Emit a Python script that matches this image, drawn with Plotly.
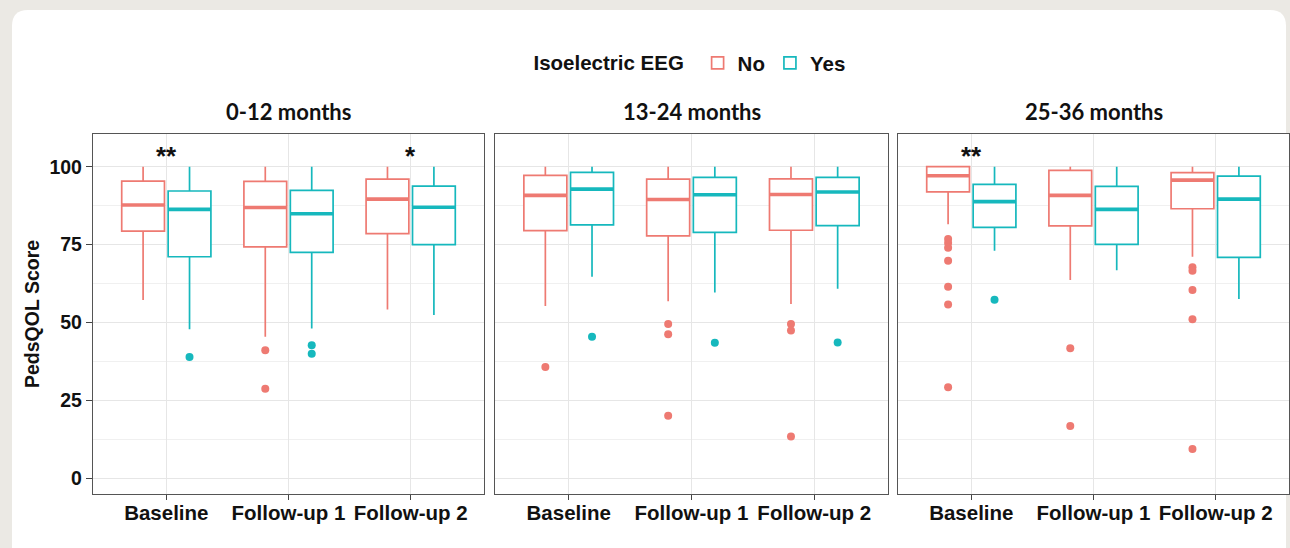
import plotly.graph_objects as go

W, H = 1290, 548

timepoints = ["Baseline", "Follow-up 1", "Follow-up 2"]
panels = ["0-12 months", "13-24 months", "25-36 months"]
groups = ["No", "Yes"]

# box statistics per panel (rows) and timepoint (columns)
no_lower = [[57.2, 45.4, 54.2], [55.3, 56.8, 55.9], [81.5, 63.6, 71.1]]
no_q1 = [[79.3, 74.3, 78.5], [79.5, 77.8, 79.6], [91.9, 81.0, 86.5]]
no_median = [[87.7, 86.9, 89.6], [90.8, 89.5, 91.1], [97.1, 90.8, 95.7]]
no_q3 = [[95.4, 95.3, 96.0], [97.2, 96.0, 96.1], [100.0, 98.8, 98.1]]
no_upper = [[100, 100, 100], [100, 100, 100], [100, 100, 100]]
no_outliers = [
    [[], [41.1, 28.7], []],
    [[35.7], [49.5, 46.2, 20.1], [49.5, 47.4, 13.4]],
    [[76.8, 75.5, 74.0, 69.8, 61.5, 55.8, 29.2], [41.7, 16.8], [67.7, 66.6, 60.4, 51.0, 9.4]],
]

yes_lower = [[47.8, 48.1, 52.4], [64.7, 59.6, 60.8], [73.0, 66.8, 57.5]]
yes_q1 = [[71.1, 72.5, 75.0], [81.3, 78.9, 81.1], [80.5, 75.1, 70.9]]
yes_median = [[86.3, 84.9, 87.0], [92.8, 91.0, 91.9], [88.8, 86.3, 89.6]]
yes_q3 = [[92.2, 92.4, 93.8], [98.2, 96.6, 96.6], [94.3, 93.7, 97.0]]
yes_upper = [[100, 100, 100], [100, 100, 100], [100, 100, 100]]
yes_outliers = [
    [[38.9], [42.7, 40.0], []],
    [[45.4], [43.5], [43.6]],
    [[57.3], [], []],
]

# significance labels: (panel index, timepoint, label)
sig_panel = [0, 0, 2]
sig_time = ["Baseline", "Follow-up 2", "Baseline"]
sig_text = ["**", "*", "**"]
sig_y = 103.5

y_ticks = [0, 25, 50, 75, 100]

colors = {"No": "#EE7A72", "Yes": "#16B8BD"}
stats = {
    "No": (no_lower, no_q1, no_median, no_q3, no_upper, no_outliers),
    "Yes": (yes_lower, yes_q1, yes_median, yes_q3, yes_upper, yes_outliers),
}
offsets = {"No": -0.19, "Yes": 0.19}
box_w = 0.35

FONT = "Liberation Sans, Arial, sans-serif"

# panel geometry in pixels
panel_x = [(93, 484), (495, 888), (898, 1289)]
panel_top, panel_bot = 134, 494

fig = go.Figure()

for p in range(3):
    xa = "x" if p == 0 else f"x{p+1}"
    ya = "y" if p == 0 else f"y{p+1}"
    for g in groups:
        lo, q1, med, q3, up, outl = stats[g]
        xs = [i + 1 + offsets[g] for i in range(len(timepoints))]
        fig.add_trace(go.Box(
            x=xs, q1=q1[p], median=med[p], q3=q3[p],
            lowerfence=lo[p], upperfence=up[p],
            width=box_w, whiskerwidth=0, boxpoints=False,
            line=dict(color=colors[g], width=1.7), fillcolor="white",
            name=g, legendgroup=g, showlegend=(p == 0),
            xaxis=xa, yaxis=ya, hoverinfo="skip",
        ))
        # thicker median line
        mx, my = [], []
        for i, x in enumerate(xs):
            mx += [x - box_w / 2, x + box_w / 2, None]
            my += [med[p][i], med[p][i], None]
        fig.add_trace(go.Scatter(
            x=mx, y=my, mode="lines", line=dict(color=colors[g], width=3.6),
            showlegend=False, xaxis=xa, yaxis=ya, hoverinfo="skip",
        ))
        ox, oy = [], []
        for i, x in enumerate(xs):
            for v in outl[p][i]:
                ox.append(x)
                oy.append(v)
        fig.add_trace(go.Scatter(
            x=ox, y=oy, mode="markers",
            marker=dict(color=colors[g], size=8, line=dict(width=0)),
            showlegend=False, xaxis=xa, yaxis=ya, hoverinfo="skip",
        ))

layout = dict(
    width=W, height=H,
    margin=dict(l=0, r=0, t=0, b=0),
    paper_bgcolor="#EBE9E4",
    plot_bgcolor="white",
    showlegend=True,
    legend=dict(
        orientation="h", x=691 / W, xanchor="center", y=1 - 63 / H, yanchor="middle",
        title=dict(text="Isoelectric EEG ", font=dict(family=FONT, size=20.5, color="#111", weight="bold")),
        font=dict(family=FONT, size=20.5, color="#111", weight="bold"),
        bgcolor="rgba(0,0,0,0)", itemwidth=30,
    ),
)

for p in range(3):
    xk = "xaxis" if p == 0 else f"xaxis{p+1}"
    yk = "yaxis" if p == 0 else f"yaxis{p+1}"
    x0, x1 = panel_x[p]
    layout[xk] = dict(
        domain=[x0 / W, x1 / W], anchor="y" if p == 0 else f"y{p+1}",
        range=[0.4, 3.6], tickvals=[1, 2, 3], ticktext=timepoints,
        showgrid=True, gridcolor="#E6E6E6", gridwidth=1.2,
        zeroline=False, showline=True, mirror=True, linecolor="#555", linewidth=1.3,
        ticks="outside", ticklen=5, tickwidth=1.2, tickcolor="#444",
        ticklabelstandoff=-5,
        tickfont=dict(family=FONT, size=20.5, color="#111", weight="bold"),
        fixedrange=True,
    )
    layout[yk] = dict(
        domain=[1 - panel_bot / H, 1 - panel_top / H], anchor="x" if p == 0 else f"x{p+1}",
        range=[-5.05, 110.5], tickvals=y_ticks,
        showgrid=True, gridcolor="#E6E6E6", gridwidth=1.2,
        minor=dict(tickvals=[12.5, 37.5, 62.5, 87.5], showgrid=True, gridcolor="#F0F0F0", gridwidth=0.8),
        zeroline=False, showline=True, mirror=True, linecolor="#555", linewidth=1.3,
        ticks="outside" if p == 0 else "", ticklen=6, tickwidth=1.2, tickcolor="#444",
        showticklabels=(p == 0),
        tickfont=dict(family=FONT, size=19.5, color="#111", weight="bold"),
        fixedrange=True,
    )

annotations = []
for p in range(3):
    x0, x1 = panel_x[p]
    annotations.append(dict(
        text=panels[p], x=(x0 + x1) / 2 / W, y=1 - 111.5 / H, xref="paper", yref="paper",
        xanchor="center", yanchor="middle", showarrow=False,
        font=dict(family="Lato, sans-serif", size=22, color="#111", weight="bold"),
    ))
for p, t, s in zip(sig_panel, sig_time, sig_text):
    xa = "x" if p == 0 else f"x{p+1}"
    ya = "y" if p == 0 else f"y{p+1}"
    annotations.append(dict(
        text=s, x=timepoints.index(t) + 1, y=sig_y, xref=xa, yref=ya,
        xanchor="center", yanchor="middle", showarrow=False,
        font=dict(family=FONT, size=26, color="#111", weight="bold"),
    ))
annotations.append(dict(
    text="PedsQOL Score", x=32 / W, y=1 - 314 / H, xref="paper", yref="paper",
    textangle=-90, xanchor="center", yanchor="middle", showarrow=False,
    font=dict(family=FONT, size=19.5, color="#111", weight="bold"),
))
layout["annotations"] = annotations

# rounded white card on a beige frame
def px(x):
    return x / W

def py(y):
    return 1 - y / H

fx0, fy0, fx1, fy1, r = 12, 10, 1286, 600, 16
path = (
    f"M {px(fx0)},{py(fy1)} L {px(fx0)},{py(fy0 + r)} "
    f"Q {px(fx0)},{py(fy0)} {px(fx0 + r)},{py(fy0)} "
    f"L {px(fx1 - r)},{py(fy0)} Q {px(fx1)},{py(fy0)} {px(fx1)},{py(fy0 + r)} "
    f"L {px(fx1)},{py(fy1)} Z"
)
layout["shapes"] = [dict(type="path", path=path, xref="paper", yref="paper",
                         fillcolor="white", line=dict(width=0), layer="below")]

fig.update_layout(**layout)
fig.write_html(
    "out.html",
    config={"displayModeBar": False},
    post_script="document.body.style.margin='0';document.body.style.overflow='hidden';",
)
